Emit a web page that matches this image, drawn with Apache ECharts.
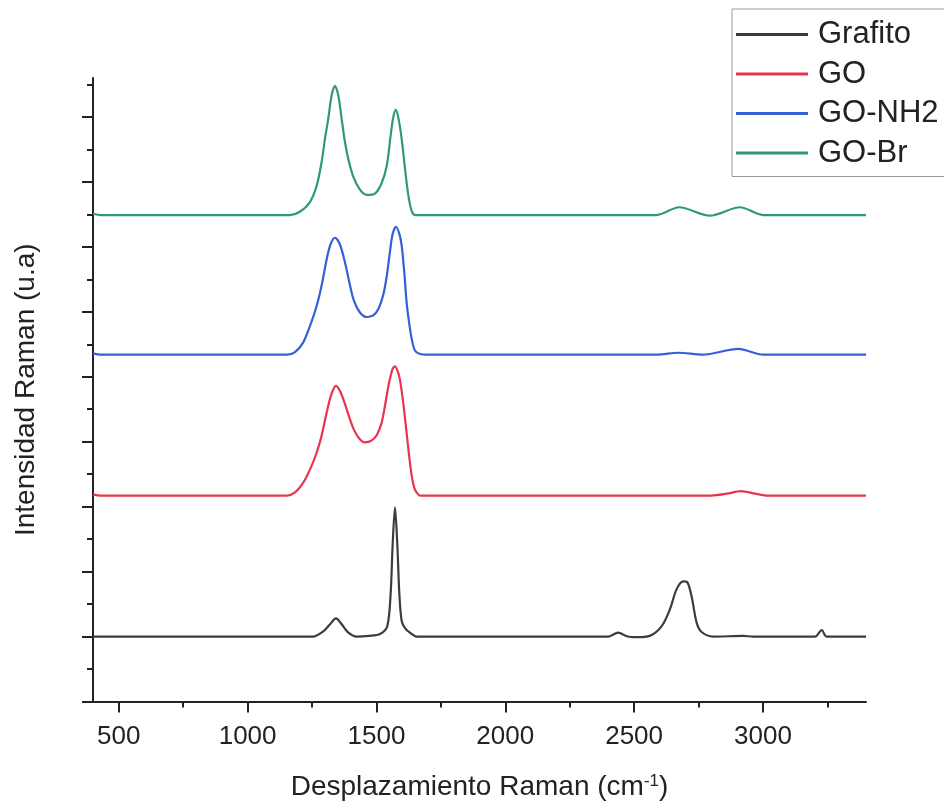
<!DOCTYPE html>
<html>
<head>
<meta charset="utf-8">
<script src="https://cdn.jsdelivr.net/npm/echarts@6/dist/echarts.min.js"></script>
<style>
  html, body { margin: 0; padding: 0; background: #fff; }
  #chart { width: 944px; height: 806px; }
</style>
</head>
<body>
<div id="chart"></div>
<script>
// Raman spectra (offset vertically for clarity)
const seriesNames = ['Grafito', 'GO', 'GO-NH2', 'GO-Br'];

const grafitoData = [
  [400, 1.0], [1000, 1.0], [1200, 1.0], [1255, 1.0], [1294, 1.08], [1320, 1.19],
  [1343, 1.28], [1365, 1.19], [1391, 1.06], [1423, 1.0], [1470, 1.01], [1514, 1.04],
  [1542, 1.16], [1555, 1.65], [1563, 2.42], [1572, 2.99], [1581, 2.42], [1589, 1.65],
  [1598, 1.24], [1611, 1.13], [1630, 1.06], [1656, 1.0], [2000, 1.0], [2400, 1.0],
  [2438, 1.06], [2475, 1.0], [2510, 0.99], [2561, 1.01], [2607, 1.16], [2639, 1.42],
  [2665, 1.73], [2691, 1.85], [2706, 1.84], [2723, 1.62], [2743, 1.21], [2762, 1.07],
  [2807, 1.0], [2924, 1.01], [2962, 1.0], [3202, 1.0], [3228, 1.10], [3247, 1.0],
  [3400, 1.0]
];

const goData = [
  [400, 3.19], [430, 3.17], [1000, 3.17], [1152, 3.17], [1184, 3.22], [1216, 3.37],
  [1242, 3.57], [1268, 3.83], [1287, 4.09], [1307, 4.45], [1325, 4.73], [1343, 4.86],
  [1360, 4.77], [1378, 4.58], [1395, 4.37], [1412, 4.19], [1433, 4.05], [1455, 3.99],
  [1478, 4.01], [1501, 4.10], [1520, 4.29], [1533, 4.55], [1543, 4.78], [1552, 4.96],
  [1563, 5.12], [1572, 5.16], [1582, 5.09], [1591, 4.96], [1604, 4.60], [1617, 4.14],
  [1627, 3.78], [1637, 3.47], [1647, 3.29], [1656, 3.22], [1669, 3.17], [2000, 3.17],
  [2800, 3.17], [2860, 3.20], [2915, 3.24], [2970, 3.20], [3020, 3.17], [3400, 3.17]
];

const goNh2Data = [
  [400, 5.36], [430, 5.34], [1152, 5.34], [1184, 5.38], [1216, 5.53], [1242, 5.78],
  [1268, 6.09], [1287, 6.40], [1307, 6.81], [1322, 7.04], [1339, 7.14], [1358, 7.04],
  [1378, 6.76], [1395, 6.45], [1412, 6.18], [1436, 5.99], [1462, 5.92], [1486, 5.94],
  [1507, 6.04], [1527, 6.27], [1540, 6.55], [1552, 6.91], [1563, 7.20], [1576, 7.31],
  [1589, 7.20], [1598, 7.02], [1608, 6.61], [1617, 6.15], [1627, 5.83], [1637, 5.58],
  [1650, 5.40], [1669, 5.35], [1700, 5.34], [2590, 5.34], [2671, 5.37], [2767, 5.34],
  [2904, 5.43], [3001, 5.34], [3400, 5.34]
];

const goBrData = [
  [400, 7.51], [430, 7.49], [1164, 7.49], [1203, 7.54], [1242, 7.69], [1268, 7.94],
  [1287, 8.30], [1300, 8.66], [1313, 8.97], [1326, 9.33], [1339, 9.48], [1352, 9.33],
  [1365, 8.97], [1378, 8.61], [1391, 8.35], [1410, 8.08], [1436, 7.88], [1462, 7.80],
  [1494, 7.82], [1520, 7.98], [1540, 8.25], [1555, 8.71], [1565, 8.99], [1575, 9.11],
  [1585, 8.99], [1598, 8.66], [1611, 8.20], [1624, 7.79], [1637, 7.55], [1650, 7.49],
  [2587, 7.49], [2675, 7.61], [2794, 7.48], [2911, 7.61], [3001, 7.49], [3400, 7.49]
];

// Axis ticks
const xTickLabels = [500, 1000, 1500, 2000, 2500, 3000];
const xMinorTicks = [750, 1250, 1750, 2250, 2750, 3250];
const yMajorTicks = [0, 1, 2, 3, 4, 5, 6, 7, 8, 9];
const yMinorTicks = [0.5, 1.5, 2.5, 3.5, 4.5, 5.5, 6.5, 7.5, 8.5, 9.5];

const colors = ['#3c3c3c', '#e8344e', '#3360d6', '#2e9a72'];
const font = '"Liberation Sans", Arial, sans-serif';
const axisColor = '#222';

const chart = echarts.init(document.getElementById('chart'), null, { renderer: 'canvas' });

const spectra = [grafitoData, goData, goNh2Data, goBrData];

chart.setOption({
  animation: false,
  backgroundColor: '#fff',
  color: colors,
  grid: { left: 93, right: 78, top: 78, bottom: 104, containLabel: false },
  legend: {
    data: seriesNames,
    orient: 'vertical',
    left: 732,
    top: 9,
    padding: [10, 40, 8, 4],
    itemGap: 8.5,
    itemWidth: 72,
    itemHeight: 3,
    icon: 'rect',
    borderColor: '#9a9a9a',
    borderWidth: 1,
    textStyle: { fontSize: 31, fontFamily: font, color: '#222', lineHeight: 31, padding: [0, 0, 0, 5] }
  },
  xAxis: [
    {
      type: 'value', min: 400, max: 3400, position: 'bottom',
      axisLine: { show: true, onZero: false, lineStyle: { color: axisColor, width: 2 } },
      axisTick: { show: true, customValues: xTickLabels, length: 11, lineStyle: { color: axisColor, width: 2 } },
      axisLabel: {
        customValues: xTickLabels, fontSize: 26, fontFamily: font, color: axisColor, margin: 22,
        formatter: (v) => String(v)
      },
      splitLine: { show: false },
      name: 'Desplazamiento Raman (cm{sup|-1})',
      nameLocation: 'middle',
      nameGap: 71,
      nameTextStyle: {
        fontSize: 28, fontFamily: font, color: axisColor,
        rich: { sup: { fontSize: 17, fontFamily: font, color: axisColor, padding: [0, 0, 12, 0] } }
      }
    },
    {
      type: 'value', min: 400, max: 3400, position: 'bottom',
      axisLine: { show: false },
      axisTick: { show: true, customValues: xMinorTicks, length: 6, lineStyle: { color: axisColor, width: 2 } },
      axisLabel: { show: false },
      splitLine: { show: false }
    }
  ],
  yAxis: [
    {
      type: 'value', min: 0, max: 9.6, position: 'left',
      axisLine: { show: true, onZero: false, lineStyle: { color: axisColor, width: 2 } },
      axisTick: { show: true, customValues: yMajorTicks, length: 11, lineStyle: { color: axisColor, width: 2 } },
      axisLabel: { show: false },
      splitLine: { show: false },
      name: 'Intensidad Raman (u.a)',
      nameLocation: 'middle',
      nameGap: 53,
      nameTextStyle: { fontSize: 28, fontFamily: font, color: axisColor }
    },
    {
      type: 'value', min: 0, max: 9.6, position: 'left',
      axisLine: { show: false },
      axisTick: { show: true, customValues: yMinorTicks, length: 6, lineStyle: { color: axisColor, width: 2 } },
      axisLabel: { show: false },
      splitLine: { show: false }
    }
  ],
  series: seriesNames.map((name, i) => ({
    name: name,
    type: 'line',
    xAxisIndex: 0,
    yAxisIndex: 0,
    data: spectra[i],
    showSymbol: false,
    symbol: 'none',
    smooth: 0.3,
    lineStyle: { width: 2.2, color: colors[i] },
    itemStyle: { color: colors[i] }
  }))
});
</script>
</body>
</html>
